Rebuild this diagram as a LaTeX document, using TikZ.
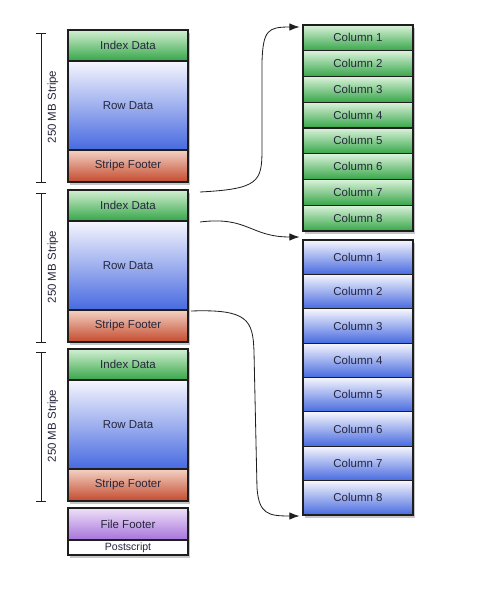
\documentclass[tikz,border=0pt]{standalone}
\usepackage{fontspec}
\setmainfont{Liberation Sans}
\usepackage{tikz}
\usetikzlibrary{arrows.meta, shadows}

\definecolor{idxtop}{HTML}{D2EFD2}
\definecolor{idxbot}{HTML}{36A648}
\definecolor{rowtop}{HTML}{F6F6FD}
\definecolor{rowbot}{HTML}{476AE0}
\definecolor{foottop}{HTML}{F3D2C4}
\definecolor{footbot}{HTML}{C44A2E}
\definecolor{filetop}{HTML}{EEE0F7}
\definecolor{filebot}{HTML}{A673DC}
\definecolor{boxtext}{HTML}{26263C}
\definecolor{edge}{HTML}{1E1E1E}

\tikzset{
    blk/.style={draw=edge, line width=0.9pt, inner sep=0pt, outer sep=0pt,
        minimum width=3.6cm, text=boxtext, font=\fontsize{9.8}{11}\selectfont,
        drop shadow={opacity=0.45, shadow xshift=0.7mm, shadow yshift=-1mm}},
    idx/.style={blk, top color=idxtop, bottom color=idxbot, minimum height=0.93cm},
    rowd/.style={blk, top color=rowtop, bottom color=rowbot, minimum height=2.67cm},
    sfoot/.style={blk, top color=foottop, bottom color=footbot, minimum height=0.96cm},
    colbox/.style={blk, minimum width=3.3cm},
    arr/.style={-{Latex[length=3mm, width=2.2mm]}, line width=0.7pt, draw=edge}
}

\begin{document}
\begin{tikzpicture}[x=0.03cm, y=-0.03cm]
    \useasboundingbox (0,0) rectangle (497,589);

    % the three stripes on the left
    \foreach \s/\y in {1/30, 2/190, 3/349} {
        \node[idx]   (idx\s)  at (128,\y+15.5) {Index Data};
        \node[rowd]  (row\s)  at (128,\y+75.5) {Row Data};
        \node[sfoot] (foot\s) at (128,\y+136)  {Stripe Footer};
        % bracket with size label
        \coordinate (bt\s) at (41,\y+3);
        \coordinate (bb\s) at (41,\y+152);
        \draw[edge, line width=0.7pt] (bt\s) -- (bb\s);
        \draw[edge, line width=0.7pt] ([xshift=-4]bt\s) -- ([xshift=4]bt\s);
        \draw[edge, line width=0.7pt] ([xshift=-4]bb\s) -- ([xshift=4]bb\s);
        \node[rotate=90, font=\fontsize{9.8}{11}\selectfont, text=boxtext]
            (lbl\s) at (53,\y+77) {250 MB Stripe};
    }

    % file footer and postscript
    \node[blk, top color=filetop, bottom color=filebot, minimum height=0.96cm]
        (ffoot) at (128,524) {File Footer};
    \node[blk, fill=white, minimum height=0.45cm, font=\fontsize{9}{10}\selectfont]
        (post) at (128,547.5) {Postscript};

    % columns of index data (green) and row data (blue)
    \foreach \i in {1,...,8} {
        \node[colbox, top color=idxtop!80!white, bottom color=idxbot, minimum height=0.7725cm]
            (g\i) at (358,{25+(\i-0.5)*25.75}) {Column \i};
    }
    \foreach \i in {1,...,8} {
        \node[colbox, top color=rowtop, bottom color=rowbot, minimum height=1.031cm]
            (b\i) at (358,{240+(\i-0.5)*34.375}) {Column \i};
    }

    % connectors
    \coordinate (a1) at (200,192);
    \coordinate (a2) at (200,222);
    \coordinate (a3) at (191,311);
    \coordinate (e1) at ([xshift=-3]g1.north west |- 0,27);
    \coordinate (e2) at ([xshift=-3]b1.north west |- 0,237);
    \coordinate (e3) at ([xshift=-3]b8.south west |- 0,516);
    \draw[arr] (a1) .. controls (258,189) and (262,182) .. (262,150)
        -- (262,62) .. controls (263,30) and (268,27) .. (e1);
    \draw[arr] (a2) .. controls (248,216) and (250,237) .. (e2);
    \draw[arr] (a3) .. controls (248,309) and (253,320) .. (254,352)
        -- (257,488) .. controls (259,514) and (268,516) .. (e3);
\end{tikzpicture}
\end{document}
